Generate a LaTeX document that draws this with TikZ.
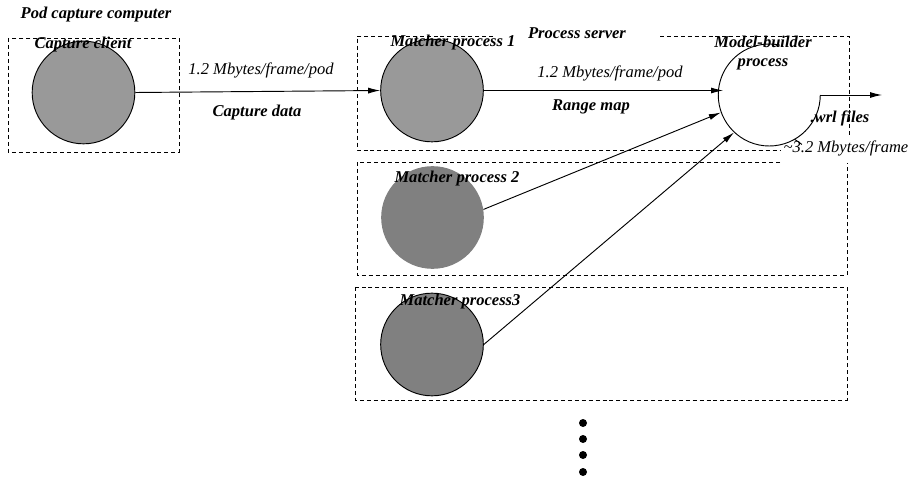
\documentclass[tikz,border=0pt]{standalone}
\usepackage{fontspec}
\setmainfont{Liberation Serif}
\usepackage{xcolor}
\usetikzlibrary{positioning, calc, arrows.meta}

\definecolor{lightproc}{gray}{0.6}
\definecolor{darkproc}{gray}{0.5}

\tikzset{
  proc/.style={circle, inner sep=0pt, minimum size=77pt},
  groupbox/.style={dashed, dash pattern=on 3pt off 2.2pt, line width=0.6pt},
  flow/.style={line width=0.7pt, -{Latex[length=9pt,width=4.5pt]}},
  boldlbl/.style={font=\fontsize{12.4}{14}\selectfont\bfseries\itshape, inner sep=0pt, align=center},
  ratelbl/.style={font=\fontsize{12.4}{14}\selectfont\itshape, inner sep=0pt}
}

\begin{document}
\begin{tikzpicture}[x=0.75pt, y=-0.75pt]
      \useasboundingbox (0,0) rectangle (915,481);
      % machine and process boxes
      \draw[groupbox] (8,38) rectangle (179,152);
      \draw[groupbox] (493,36) -- (357,36) -- (357,150) -- (780,150);
      \draw[groupbox] (660,36) -- (849,36) -- (849,137);
      \draw[groupbox] (780,162) -- (357,162) -- (357,275) -- (847,275) -- (847,163);
      \draw[groupbox] (355,287) rectangle (847,400);
      % processes
      \node[proc, draw, fill=lightproc, line width=0.7pt] (client) at (83.5,92.5) {};
      \node[proc, draw, fill=lightproc, line width=0.7pt] (m1) at (432,90.5) {};
      \node[proc, fill=darkproc] (m2) at (432.5,217.5) {};
      \node[proc, draw, fill=darkproc, line width=0.7pt] (m3) at (432,344.5) {};
      \node[proc, minimum size=76.5pt] (builder) at (769,95) {};
      % y axis points down, so arc angles run the other way
      \draw[line width=0.7pt] (builder.east) arc[start angle=0, end angle=-282, radius=38.25pt];
      \draw[line width=0.7pt] (builder.-60) arc[start angle=60, end angle=50, radius=38.25pt];
      \coordinate (out) at (882,95);
      % data flow
      \draw[flow] (client.east) -- (m1.west);
      \draw[flow] (m1.east) -- ([xshift=4pt]m1.east -| builder.west);
      \draw[flow] (m2.9) -- (builder.200);
      \draw[flow] (m3.east) -- (builder.227);
      \draw[flow] (builder.east) -- (out);
      % labels
      \node[boldlbl] (podlbl) at (96,15) {Pod capture computer};
      \node[boldlbl] (clientlbl) at (83,45) {Capture client};
      \node[boldlbl] (serverlbl) at (577,33) {Process server};
      \node[boldlbl] (m1lbl) at (453,43) {Matcher process 1};
      \node[boldlbl] (m2lbl) at (457,179) {Matcher process 2};
      \node[boldlbl] (m3lbl) at (460,302) {Matcher process3};
      \node[boldlbl] (builderlbl) at (763,53) {Model-builder\\process};
      \node[ratelbl] (rate1) at (261,70) {1.2 Mbytes/frame/pod};
      \node[boldlbl] (capdata) at (257,113) {Capture data};
      \node[ratelbl] (rate2) at (610,73) {1.2 Mbytes/frame/pod};
      \node[boldlbl] (rangelbl) at (591,107) {Range map};
      \node[boldlbl] (wrllbl) at (840,118) {.wrl files};
      \node[ratelbl] (rate3) at (846,148) {\textasciitilde3.2 Mbytes/frame};
      % more matchers
      \foreach \y in {423,439,455,472}
        \fill (583,\y) circle[radius=3pt];
\end{tikzpicture}
\end{document}
